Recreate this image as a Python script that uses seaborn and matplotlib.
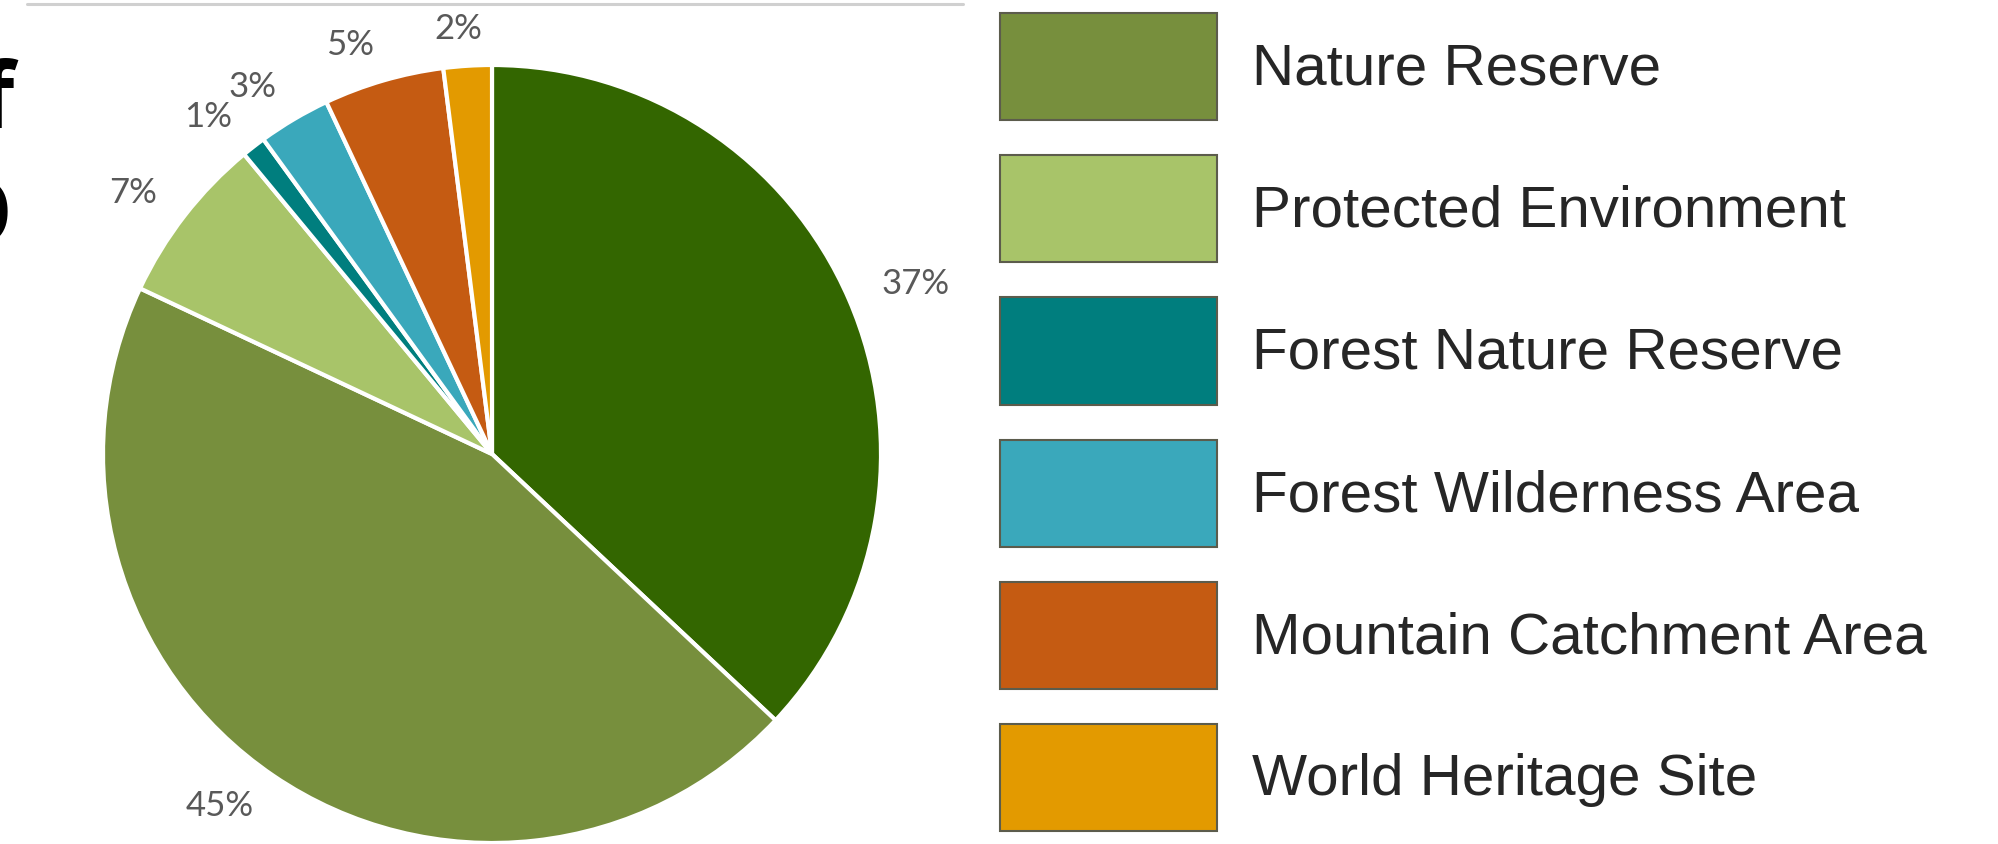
import matplotlib
matplotlib.use("Agg")
import matplotlib.pyplot as plt
from matplotlib.patches import Patch
from matplotlib.lines import Line2D
import numpy as np
import seaborn as sns

# Share of protected area by category (percent)
categories = [
    "National Park",
    "Nature Reserve",
    "Protected Environment",
    "Forest Nature Reserve",
    "Forest Wilderness Area",
    "Mountain Catchment Area",
    "World Heritage Site",
]
shares = [37, 45, 7, 1, 3, 5, 2]
colors = ["#336600", "#778f3d", "#a8c469", "#007e7e", "#3aa8bb", "#c55b12", "#e39a00"]
legend_categories = categories[1:]
legend_colors = colors[1:]

sns.set_theme(style="white")
plt.rcParams["font.family"] = ["Liberation Sans", "DejaVu Sans"]

W, H = 1998, 844
fig = plt.figure(figsize=(W / 100, H / 100), dpi=100)
fig.patch.set_facecolor("white")

# pie axes: centre and radius in pixels
cx, cy, r = 492, 454, 389
ax = fig.add_axes([(cx - r) / W, (H - cy - r) / H, 2 * r / W, 2 * r / H])
wedges, _, autotexts = ax.pie(
    shares,
    colors=colors,
    startangle=90,
    counterclock=False,
    radius=1,
    wedgeprops=dict(edgecolor="white", linewidth=3),
    autopct=lambda p: f"{p:.0f}%",
    pctdistance=1.09,
    textprops=dict(color="#595959", fontsize=25, family=["Lato", "DejaVu Sans"]),
)
ax.set_xlim(-1, 1)
ax.set_ylim(-1, 1)
ax.set_aspect("equal")
ax.axis("off")

# place each percentage label so the corner nearest the pie sits just outside the rim
fig.canvas.draw()
renderer = fig.canvas.get_renderer()
for w, t in zip(wedges, autotexts):
    theta = np.deg2rad((w.theta1 + w.theta2) / 2)
    bb = t.get_window_extent(renderer)
    c, s = np.cos(theta), np.sin(theta)
    sx = np.sign(c) if abs(c) > 0.2 else c / 0.2
    sy = np.sign(s) if abs(s) > 0.2 else s / 0.2
    x, y = t.get_position()
    t.set_position((x + bb.width / 2 * sx / r,
                    y + bb.height * 0.05 * sy / r))
    t.set_clip_on(False)

# legend with large swatches
handles = [Patch(facecolor=c, edgecolor="#5c5c4c", linewidth=1.5) for c in legend_colors]
fig.legend(
    handles,
    legend_categories,
    loc="upper left",
    bbox_to_anchor=(1000 / W, 1 - 13 / H),
    frameon=False,
    fontsize=42,
    handlelength=3.72,
    handleheight=2.45,
    labelspacing=0.6,
    handletextpad=0.6,
    borderpad=0,
    borderaxespad=0,
    labelcolor="#262626",
)

# thin rule along the top
fig.add_artist(Line2D([27 / W, 963 / W], [1 - 4 / H, 1 - 4 / H],
                      color="#d0d0d0", linewidth=2.2))

# title running in from the left edge
title_font = dict(fontsize=66, fontweight="bold", color="black",
                  family=["Open Sans", "DejaVu Sans"])
fig.text(15 / W, 1 - 128 / H, "of", ha="right", va="baseline", **title_font)
fig.text(13 / W, 1 - 244 / H, "O", ha="right", va="baseline", **title_font)

fig.savefig("out.png", dpi=100, facecolor="white")
